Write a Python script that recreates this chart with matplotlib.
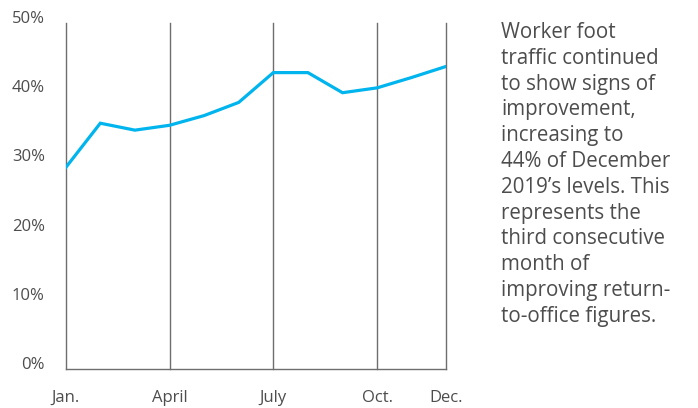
import matplotlib
matplotlib.use("Agg")
import matplotlib.pyplot as plt

months = ["Jan.", "Feb.", "Mar.", "April", "May", "June", "July", "Aug.", "Sep.", "Oct.", "Nov.", "Dec."]
values = [29.1, 35.5, 34.5, 35.2, 36.6, 38.5, 42.8, 42.8, 39.9, 40.6, 42.1, 43.7]
tick_idx = [0, 3, 6, 9, 11]
tick_labels = ["Jan.", "April", "July", "Oct.", "Dec."]
y_ticks = [0, 10, 20, 30, 40, 50]
y_labels = ["0%", "10%", "20%", "30%", "40%", "50%"]
note = ("Worker foot\ntraffic continued\nto show signs of\nimprovement,\nincreasing to\n"
        "44% of December\n2019\u2019s levels. This\nrepresents the\nthird consecutive\n"
        "month of\nimproving return-\nto-office figures.")

plt.rcParams['font.family'] = ['Open Sans', 'DejaVu Sans']
txt = "#4d4d4d"
W, H = 698, 408
fig = plt.figure(figsize=(W / 100, H / 100), dpi=100)
ax = fig.add_axes([65.7 / W, (H - 369.3) / H, (446.3 - 65.7) / W, (369.3 - 22.7) / H])

x = list(range(len(months)))
for i in tick_idx:
    ax.axvline(i, color="#6e6e6e", lw=1.0, zorder=1, clip_on=False)
ax.plot(x, values, color="#00b4ee", lw=2.3, zorder=3, solid_joinstyle='miter')

ax.set_xlim(0, 11)
ax.set_ylim(0, 50)
for s in ["top", "right", "left"]:
    ax.spines[s].set_visible(False)
ax.spines["bottom"].set_color("#6e6e6e")
ax.spines["bottom"].set_linewidth(1.0)

ax.set_xticks(tick_idx)
ax.set_xticklabels(tick_labels, fontsize=12, color=txt)
ax.set_yticks(y_ticks)
ax.set_yticklabels(y_labels, fontsize=12, color=txt)
for lab in ax.get_yticklabels():
    lab.set_va("baseline")
ax.tick_params(axis="both", length=0)
ax.tick_params(axis="y", pad=15)
ax.tick_params(axis="x", pad=15)

fig.text(501 / W, 1 - 22 / H, note, fontsize=14.8, color=txt, va="top", ha="left",
         linespacing=1.30)

fig.savefig("out.png", dpi=100)
